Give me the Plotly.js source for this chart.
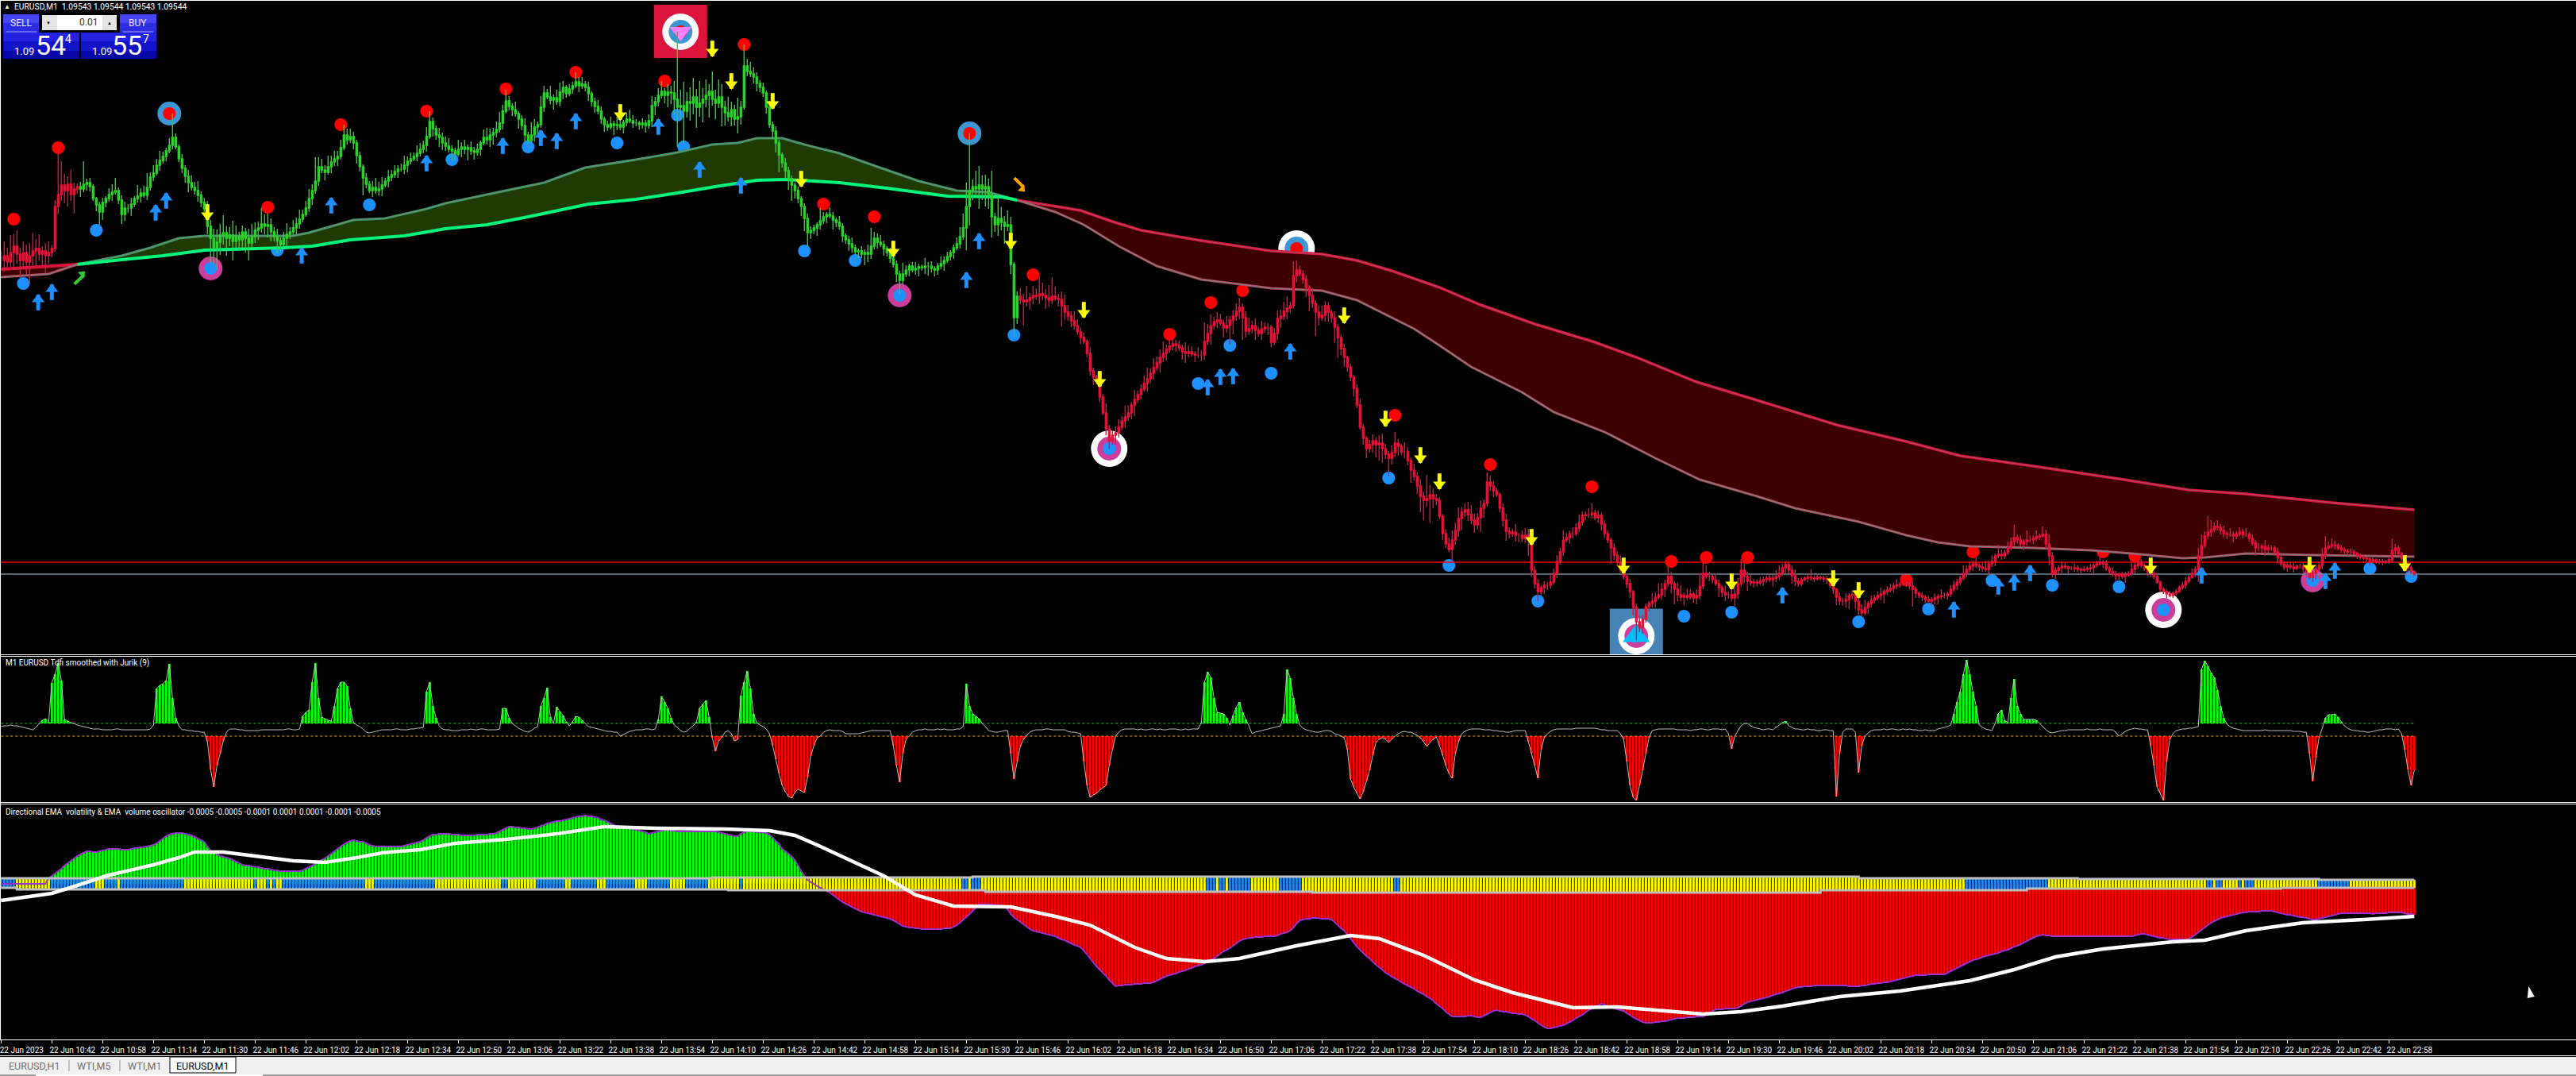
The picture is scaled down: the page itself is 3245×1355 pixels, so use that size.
<!DOCTYPE html>
<html><head><meta charset="utf-8">
<script src="https://cdn.plot.ly/plotly-3.0.1.min.js"></script>
<style>html,body{margin:0;padding:0;background:#000;overflow:hidden}#c{width:3245px;height:1355px}</style>
</head><body><div id="c"></div>
<script>
// M1 closes, chart-scale price points
const closePts=[
572,578,570,582,590,580,572,582,570,578,584,587,580,584,578,582,587,640,655,667,
660,668,655,662,665,662,668,670,665,650,642,633,645,650,655,658,660,648,630,638,
638,643,650,653,657,654,664,677,682,692,698,703,710,717,727,715,700,688,678,670,
664,660,654,645,637,615,600,588,595,604,607,600,604,596,602,598,608,600,594,602,
610,613,618,615,617,608,602,597,592,600,605,608,613,618,624,630,638,650,660,672,
690,686,683,690,696,700,703,714,730,724,728,720,704,690,676,668,660,664,660,662,
667,672,677,680,684,687,687,692,697,700,703,707,712,717,728,747,738,730,727,720,
716,712,710,706,712,715,712,714,710,708,712,720,727,724,730,733,737,745,760,773,
766,762,757,750,742,730,723,730,740,743,765,783,778,774,777,772,784,790,782,788,
792,797,792,794,790,782,772,766,760,750,743,740,744,742,743,740,746,750,748,745,
745,743,745,742,748,767,772,780,785,780,784,783,775,765,767,760,772,770,778,765,
770,775,780,785,775,770,778,765,758,753,762,750,753,765,817,810,807,803,795,790,
783,765,743,735,720,705,695,685,675,667,660,650,640,625,607,610,613,617,622,627,
630,628,623,620,615,603,598,593,588,583,584,580,582,580,590,600,595,592,587,582,
575,567,555,547,555,560,565,560,562,564,563,565,565,562,560,565,568,572,577,582,
588,593,602,613,640,660,665,662,667,662,665,655,627,617,625,620,615,617,567,500,
527,522,520,522,525,528,527,530,528,525,522,527,524,523,515,507,502,496,490,482,
475,470,455,433,425,420,400,380,360,345,352,355,362,370,375,380,390,397,403,410,
417,423,430,437,443,450,455,460,464,467,465,462,457,455,457,454,453,453,453,470,
480,490,495,497,493,487,490,497,502,508,513,500,483,486,490,484,480,486,488,488,
469,480,499,502,508,512,515,553,560,555,548,538,528,518,507,500,503,515,507,500,
488,475,461,450,438,425,411,390,362,348,335,340,345,340,342,335,328,323,330,342,
338,331,331,320,308,300,288,275,270,272,277,272,270,250,228,215,208,220,232,247,
255,258,252,245,239,248,260,266,293,288,282,277,260,245,231,228,230,226,226,222,
226,220,182,165,155,160,163,163,167,178,193,205,220,223,228,228,235,242,251,252,
252,254,248,251,240,228,220,210,201,192,182,174,165,155,135,117,110,120,136,140,
143,148,151,158,165,174,165,158,151,148,150,148,152,147,150,162,178,174,174,170,
165,160,154,151,151,147,152,165,182,174,168,166,167,166,168,170,172,170,172,174,
178,185,189,182,175,168,165,170,172,173,172,171,173,172,171,170,163,158,148,143,
143,145,150,151,143,132,128,135,140,144,147,150,152,155,157,159,162,163,164,164,
167,162,158,153,150,148,145,143,145,147,149,150,150,152,158,163,167,172,178,183,
187,190,188,186,184,183,190,193,200,202,200,204,210,218,223,220,215,218,220,220,
222,224,225,227,215,200,177,182,185,187,186,184,184,185,183,182,183,184,185,188,
190,192,190,184,180,177,175,177,174,176,178,183,188,193,188,184,180,178,174,167,
158,155,152,150,153,155,160,163,168,173,178,183,200,213,225,230,233,237,236,232,
228,227,227,225,228,230,227,227,222,216,210,210,212,208,210,210,205,198,190,186,
188,186,184,187,187,184,180,173,178,183,188,200,210,212,214,213,210,208,206,205,
205,203,200,198,197,196,193,195,192,193,192,193,195,207,210,203,197,190,185,180,177];
const upperWick=[
12,18,10,22,15,20,8,14,10,16,22,12,18,6,10,14,4,8,59,30,
14,10,18,8,4,6,29,5,6,3,2,4,6,3,8,10,16,4,6,8,
5,8,3,14,6,9,18,6,10,8,12,6,4,9,30,5,3,6,4,8,
9,7,12,5,6,10,8,12,16,14,22,8,10,18,14,6,8,5,12,16,
10,8,20,12,14,8,6,10,4,8,14,6,10,8,12,6,9,12,8,30,
12,10,6,14,8,10,7,10,13,8,10,6,4,5,3,6,4,8,12,9,
10,4,9,6,8,5,7,12,6,8,5,10,8,6,12,13,5,4,9,6,
8,10,5,4,12,6,9,4,8,5,7,3,10,12,8,6,10,14,8,14,
6,4,10,3,5,9,4,16,10,4,14,9,5,14,4,10,12,8,3,6,
5,12,6,9,4,7,3,5,8,6,3,5,9,4,10,6,3,8,12,7,
5,3,6,4,8,12,6,9,13,4,10,8,15,85,20,30,12,18,24,10,
28,14,20,9,25,12,22,16,8,20,10,6,24,8,27,9,12,8,6,4,
6,3,8,4,6,4,3,6,5,4,3,5,3,4,6,5,4,3,16,6,
3,9,5,3,8,4,3,5,8,4,3,6,4,10,23,8,6,9,5,3,
6,3,5,4,14,6,3,5,8,4,3,10,5,6,3,4,9,5,6,3,
4,8,12,18,30,72,9,20,24,12,15,10,30,5,30,14,8,18,10,3,
6,10,8,18,6,12,9,22,14,8,16,24,12,6,10,14,9,6,12,8,
5,6,3,8,4,3,6,4,12,5,6,8,10,6,14,9,4,12,5,6,
10,14,6,12,8,10,15,6,12,8,5,6,4,12,8,7,4,10,6,24,
12,14,6,10,8,4,12,5,7,10,12,5,8,14,6,9,4,10,6,5,
3,7,10,8,12,15,5,18,12,6,4,5,3,9,4,8,12,6,4,3,
8,4,3,6,2,4,3,5,8,4,3,6,8,4,10,12,6,4,9,14,
5,3,12,6,4,8,5,9,6,30,12,8,6,4,3,5,8,12,10,14,
6,8,10,12,8,6,10,5,12,8,6,4,3,6,8,5,4,10,3,6,
9,8,4,5,6,3,5,4,10,6,8,5,12,6,4,8,6,10,5,4,
8,12,4,6,3,5,4,3,6,5,8,3,4,6,2,5,8,6,4,3,
10,6,14,8,5,18,6,3,8,12,4,9,6,3,8,16,14,10,6,4,
8,5,3,9,4,6,10,7,14,12,6,8,4,3,5,4,3,6,4,8,
10,5,4,3,6,8,4,3,2,4,10,3,4,2,3,4,3,5,2,6,
4,8,3,5,6,4,7,10,3,6,4,5,8,3,5,6,4,8,3,5,
4,3,6,3,2,4,3,5,3,6,3,8,4,3,5,6,4,3,10,5,
6,4,8,3,5,10,4,8,3,12,6,4,8,5,16,4,6,3,12,6,
4,8,3,10,6,12,5,4,3,6,4,2,3,5,3,2,4,3,5,3,
4,8,3,5,3,6,4,2,3,4,3,8,4,2,3,3,4,2,3,3,
2,3,3,4,2,3,3,4,5,3,6,4,10,14,6,20,12,5,8,4,
6,3,8,4,3,6,4,8,3,5,4,6,3,8,4,3,3,5,4,3,
4,3,5,2,3,4,3,5,3,6,4,10,15,6,8,5,3,4,3,3,
4,3,2,3,3,2,4,3,2,3,3,2,4,15,5,3,2,3,4,3,2];
const lowerWick=[
8,14,10,6,18,12,22,8,16,28,12,20,8,14,22,10,6,4,10,8,
16,20,8,24,6,10,4,8,6,3,8,16,10,6,4,8,3,5,12,8,
6,10,4,5,8,3,6,4,5,3,7,4,6,3,5,3,4,6,8,12,
4,5,8,6,4,10,30,20,28,16,12,22,10,24,8,14,10,18,22,6,
8,12,6,10,14,12,6,16,8,4,10,6,5,8,6,4,3,5,8,4,
6,4,10,3,8,5,9,4,3,6,4,8,10,6,22,5,3,8,4,6,
9,3,8,5,4,8,3,6,9,4,3,6,4,5,8,3,10,6,12,9,
6,4,12,8,3,10,6,14,5,9,4,8,3,6,9,12,6,4,8,3,
5,8,4,12,6,9,5,3,8,10,4,6,3,5,12,4,6,9,5,3,
6,3,8,4,5,9,6,8,4,6,9,5,3,12,6,4,8,5,3,6,
4,6,5,9,4,8,12,6,4,10,15,14,20,50,16,40,8,22,14,26,
12,24,10,28,8,20,6,24,16,6,12,8,18,10,3,6,4,8,10,6,
5,8,4,10,12,22,6,10,14,20,10,6,12,16,17,8,5,10,6,4,
8,3,12,6,4,8,5,9,6,4,8,5,14,10,6,4,8,3,9,5,
6,4,10,17,5,4,8,3,6,10,4,8,12,5,8,6,4,9,3,5,
8,3,6,4,28,24,12,8,25,14,22,18,26,9,14,10,22,6,12,23,
8,5,30,6,12,8,4,10,6,14,8,5,3,9,26,10,6,8,5,4,
8,3,5,6,10,4,6,3,8,10,5,12,6,4,9,5,8,14,4,6,
3,10,5,8,4,12,6,9,4,5,8,4,10,12,5,3,9,4,8,6,
4,14,5,8,3,12,6,24,18,6,10,28,8,5,6,12,4,8,5,10,
6,4,8,12,5,10,6,4,8,3,5,12,20,6,30,10,4,8,12,6,
20,26,8,12,6,5,10,4,3,8,12,5,10,16,20,18,6,22,8,5,
12,4,8,6,16,5,10,20,25,8,30,12,6,4,8,5,3,14,6,8,
14,6,8,5,10,6,18,12,4,6,8,3,5,8,12,6,4,8,9,5,
6,20,8,6,12,5,8,6,4,3,6,4,5,3,8,6,3,5,4,6,
4,5,3,6,8,5,4,20,6,5,3,4,6,8,10,23,6,8,4,5,
5,8,3,6,10,4,12,19,8,5,10,4,3,6,8,5,4,3,6,5,
3,12,6,8,5,4,10,6,4,8,12,4,6,5,3,6,4,3,8,5,
4,3,6,5,10,6,4,3,2,5,3,4,2,3,4,5,3,6,10,5,
6,8,12,5,10,6,4,3,8,5,4,3,6,12,4,3,5,4,3,2,
3,4,22,6,3,5,4,3,5,6,8,4,3,5,4,3,6,4,3,5,
4,6,3,5,4,3,8,4,6,3,5,4,3,3,6,4,3,8,5,3,
5,3,4,2,6,12,4,6,5,8,3,6,2,4,3,5,2,3,4,8,
3,2,5,3,4,3,6,5,3,8,2,3,5,4,3,3,5,4,3,2,
4,3,5,2,3,3,2,3,4,3,2,5,16,6,3,4,6,3,4,5,
4,6,3,8,4,3,5,3,4,3,10,4,6,8,4,3,5,8,3,4,
6,3,5,2,3,5,4,3,6,8,3,5,4,2,3,5,3,4,3,5,
3,2,4,3,2,3,5,3,2,3,4,2,3,4,6,2,3,4,6,3,2];
// Tdfi smoothed with Jurik, per bar
const tdfi=[
4,5,5,6,5,5,4,3,2,1,0,3,8,12,14,10,59,70,84,62,
13,11,9,8,6,5,4,3,2,1,1,1,0,0,0,0,1,1,0,0,
0,0,0,0,0,0,0,1,6,52,56,58,62,83,40,15,5,0,0,-1,
-1,-2,-2,-3,-3,-15,-50,-72,-45,-30,-14,-3,1,1,1,0,0,-1,-1,-1,
-1,-1,0,0,0,0,0,0,0,0,1,1,0,0,1,17,22,25,60,84,
40,16,14,12,11,30,52,60,60,55,27,9,6,4,1,-3,-4,-3,-2,-1,
0,0,0,0,1,1,0,0,0,1,1,2,2,3,48,60,30,15,5,1,
0,0,-1,-1,-1,0,0,0,1,0,0,1,1,0,0,0,0,1,27,27,
15,8,5,2,0,-2,-3,-1,2,4,30,40,53,16,8,29,23,18,10,5,
10,17,16,12,8,4,3,2,1,0,-1,-2,-2,-3,-3,-8,-6,-4,-2,-1,
0,0,0,1,1,0,1,13,42,35,27,15,6,3,-1,-3,-2,2,5,10,
27,32,37,16,-10,-27,-14,-10,-3,-1,-5,-14,-12,43,60,74,52,20,9,6,
4,1,-5,-20,-37,-55,-70,-78,-84,-86,-79,-75,-77,-79,-60,-33,-20,-10,-8,-3,
-1,0,-1,-1,-1,-2,-5,-5,-5,-5,-5,-4,-3,-2,-1,-1,-1,-1,-1,-1,
-1,-20,-45,-66,-30,-12,-8,-3,-1,0,0,1,0,0,0,1,0,1,0,0,
0,1,1,4,58,30,20,17,14,8,4,-1,-2,-3,-3,-2,-1,-1,-30,-62,
-40,-21,-12,-7,-3,-1,0,0,0,1,1,0,0,0,0,0,-2,-3,-3,-4,
-5,-40,-70,-85,-82,-80,-76,-73,-70,-45,-25,-8,-3,0,1,1,1,1,0,1,
0,0,1,1,0,1,0,0,1,1,1,0,0,1,0,1,1,1,9,60,
73,66,40,22,21,20,15,6,18,28,35,22,13,5,-5,-3,-2,-1,0,1,
2,3,4,5,20,76,65,40,20,6,2,0,-1,-2,-3,-3,-2,-1,-1,-2,
-5,-6,-8,-10,-25,-62,-72,-80,-87,-78,-65,-51,-32,-16,-12,-10,-12,-16,-12,-8,
-5,-3,-2,-3,-3,-5,-7,-10,-15,-21,-16,-12,-9,-20,-32,-45,-55,-61,-30,-15,
-5,-2,0,1,1,1,1,0,0,0,-1,-1,-2,-2,-3,-3,-2,-1,-1,-1,
-1,-15,-30,-45,-61,-25,-10,-5,-2,0,1,1,1,1,1,1,2,2,2,2,
2,2,2,1,0,0,-1,-1,-1,-1,-5,-12,-40,-70,-85,-89,-70,-51,-30,-10,
-1,0,1,1,1,1,1,1,0,0,0,0,-1,0,0,1,1,0,0,1,
1,1,0,1,-5,-24,-8,-1,5,8,8,5,3,2,1,0,1,1,0,3,
6,9,11,5,3,1,1,0,0,1,0,0,-1,-1,0,0,-1,-1,-84,-30,
-3,1,1,1,-3,-54,-20,-8,-4,-1,0,0,0,1,0,1,1,0,0,1,
0,1,0,0,-1,-1,0,-1,-1,-1,1,2,3,4,6,20,35,48,70,88,
70,48,30,6,3,1,0,-1,8,20,25,12,9,40,64,30,20,13,13,13,
13,12,8,4,0,-3,-4,-3,-2,-1,-1,0,0,0,0,0,0,1,0,0,
0,1,0,0,0,0,-3,-8,-5,-2,0,1,2,1,1,0,0,-20,-45,-72,
-80,-89,-40,-12,-5,-1,0,1,1,2,2,3,4,76,87,80,72,66,50,30,
15,7,4,2,1,0,-1,-1,-1,-1,-1,-1,-1,0,-1,-1,-1,-1,-1,-1,
-1,-1,-2,-2,-2,-3,-3,-30,-65,-35,-10,2,15,19,19,20,16,10,5,2,
0,-1,-1,-2,-2,-3,-3,-2,-1,0,0,1,1,1,0,1,-5,-25,-50,-70,-51];
const tdfiUpperLevel=8, tdfiLowerLevel=-8;
// Directional EMA volatility oscillator, per bar
const oscillator=[
0,0,0,0,0,0,0,0,0,0,0,0,0,0,0,7,10,13,16,19,
23,26,29,32,35,37,39,41,41,40,40,41,42,43,44,44,44,44,43,43,
43,44,45,45,46,46,47,48,49,51,54,57,60,62,63,64,64,64,63,62,
61,59,57,55,53,47,42,40,37,35,34,33,32,30,28,26,24,23,23,22,
21,21,20,19,19,18,17,17,16,16,16,16,16,16,16,17,19,21,23,25,
28,30,32,35,38,41,44,47,50,52,54,55,54,53,53,51,49,48,47,47,
47,47,47,47,47,47,47,48,49,50,51,52,53,55,58,60,62,62,63,63,
63,63,62,62,62,61,61,61,61,61,62,62,62,62,63,63,64,66,68,70,
72,72,71,71,70,70,69,69,70,71,73,74,76,77,78,79,79,80,81,82,
83,84,85,85,86,85,85,84,83,81,80,78,76,74,72,71,71,70,70,69,
68,67,66,65,63,64,65,66,67,68,68,67,67,66,66,66,66,66,66,66,
66,66,66,66,66,66,65,64,63,62,61,60,60,63,65,66,66,66,65,65,
65,64,62,58,54,50,44,41,38,34,30,23,16,10,5,2,0,-3,-5,-7,
-9,-11,-14,-17,-20,-23,-25,-27,-29,-31,-33,-35,-36,-37,-38,-39,-40,-41,-42,-43,
-44,-46,-48,-51,-53,-54,-55,-55,-56,-56,-57,-57,-57,-57,-57,-57,-57,-56,-56,-56,
-54,-52,-49,-45,-42,-38,-34,-30,-26,-26,-26,-26,-26,-27,-27,-27,-28,-32,-38,-42,
-45,-48,-51,-54,-57,-59,-60,-61,-62,-63,-64,-65,-66,-68,-70,-71,-73,-75,-77,-78,
-80,-84,-89,-94,-99,-104,-108,-112,-116,-121,-125,-129,-128,-128,-127,-127,-127,-126,-126,-126,
-125,-125,-125,-124,-122,-120,-118,-116,-115,-114,-113,-111,-110,-109,-107,-106,-104,-103,-102,-100,
-98,-96,-94,-91,-88,-85,-83,-81,-78,-75,-72,-70,-69,-68,-68,-67,-67,-67,-66,-66,
-66,-66,-65,-63,-62,-61,-59,-55,-50,-46,-45,-44,-44,-43,-43,-43,-44,-44,-44,-45,
-48,-52,-56,-59,-64,-69,-74,-79,-83,-87,-91,-94,-98,-102,-105,-108,-112,-114,-117,-119,
-121,-124,-126,-128,-130,-132,-135,-137,-139,-142,-144,-147,-151,-154,-157,-161,-164,-167,-167,-167,
-167,-167,-166,-166,-167,-168,-168,-166,-164,-162,-160,-159,-160,-161,-161,-162,-163,-163,-164,-164,
-165,-167,-170,-172,-175,-178,-180,-182,-182,-181,-180,-179,-178,-176,-174,-172,-169,-167,-165,-162,
-159,-157,-155,-153,-151,-152,-154,-155,-157,-158,-159,-160,-163,-165,-168,-170,-172,-174,-175,-175,
-175,-174,-174,-173,-173,-172,-171,-170,-169,-169,-169,-168,-168,-168,-167,-167,-167,-165,-163,-160,
-158,-158,-158,-157,-157,-157,-157,-156,-154,-151,-149,-148,-147,-146,-145,-144,-143,-142,-140,-139,
-138,-137,-135,-134,-132,-131,-130,-130,-129,-129,-129,-128,-128,-128,-128,-128,-128,-128,-128,-128,
-128,-128,-129,-129,-129,-129,-128,-128,-127,-126,-126,-125,-125,-124,-124,-123,-122,-121,-120,-119,
-118,-117,-116,-115,-115,-115,-115,-114,-114,-114,-114,-114,-114,-112,-110,-108,-106,-104,-102,-100,
-98,-96,-95,-94,-92,-91,-90,-89,-88,-87,-85,-84,-83,-81,-79,-78,-76,-74,-72,-70,
-68,-66,-65,-64,-65,-65,-66,-66,-66,-66,-66,-66,-66,-66,-66,-66,-66,-66,-66,-66,
-66,-66,-66,-66,-66,-66,-66,-66,-66,-66,-66,-66,-65,-64,-63,-63,-64,-65,-66,-67,
-68,-68,-69,-70,-70,-70,-70,-70,-70,-69,-67,-64,-61,-58,-55,-52,-49,-47,-45,-43,
-42,-41,-40,-39,-38,-37,-36,-36,-35,-35,-35,-35,-34,-34,-34,-34,-35,-36,-37,-38,
-39,-39,-40,-41,-42,-42,-43,-44,-45,-45,-44,-43,-42,-41,-40,-39,-38,-37,-37,-37,
-37,-37,-37,-37,-37,-37,-37,-38,-37,-37,-37,-37,-36,-36,-36,-36,-36,-37,-38,-38,-39];
// signal line
const signalBar=[0,16,24,33,48,56,61,70,80,92,102,112,120,132,143,159,175,190,206,228,242,250,257,267,278,288,300,318,332,343,357,367,379,390,408,425,434,448,464,476,495,509,525,536,548,561,579,598,620,634,647,662,684,694,707,725,744,760];
const signalVal=[-21,-12,-2,10,24,33,40,40,35,29,27,33,39,43,51,56,63,72,70,69,67,61,49,30,10,-14,-28,-29,-41,-52,-80,-94,-98,-94,-78,-65,-69,-90,-121,-137,-156,-155,-161,-164,-161,-154,-142,-135,-122,-108,-92,-82,-73,-71,-59,-49,-45,-41];
// volume state: bars in the blue state, inclusive ranges; every other bar is yellow
const blueFrom=[0,16,33,38,80,84,86,89,118,158,169,180,191,204,216,233,303,306,380,384,387,403,439,619,695,698,705,707,730];
const blueTo=[4,29,36,57,80,84,86,114,136,159,177,187,199,210,222,233,304,308,382,385,393,409,440,644,696,699,705,709,739];
const volUpperBar=[0,224,306,585,654,730,760];
const volUpperVal=[7,8,9,7,6,5,5];
const volLowerBar=[0,5,229,310,413,573,638,718,760];
const volLowerVal=[-5,-7,-8,-10,-11,-8,-6,-5,-5];
// moving-average bands (bar, price points)
const earlyTopBar=[0,24], earlyTopVal=[561,567];
const earlyLowBar=[0,15,24], earlyLowVal=[551,555,567];
const greenTopBar=[24,38,47,56,64,92,97,111,121,134,140,153,171,184,200,213,224,232,238,246,253,264,276,289,301,311,320];
const greenTopVal=[567,578,588,600,603,603,607,623,625,637,644,655,670,689,699,708,718,720,726,726,718,707,690,672,660,658,648];
const greenLowBar=[24,38,51,64,89,98,110,127,140,153,166,185,200,213,225,238,247,264,279,298,315,320];
const greenLowVal=[567,573,578,585,588,590,598,603,612,617,627,643,649,657,665,673,674,670,663,653,652,648];
const redTopBar=[320,340,350,359,378,400,416,427,438,453,466,483,502,515,534,553,578,600,617,640,667,689,707,734,760];
const redTopVal=[648,635,621,610,597,584,580,572,559,538,516,492,469,450,419,396,365,344,326,313,297,283,278,267,258];
const redLowBar=[320,332,341,352,364,378,400,416,427,445,453,463,479,489,505,521,535,553,565,585,600,610,620,640,658,671,687,694,707,728,760];
const redLowVal=[648,633,617,590,565,548,537,534,522,486,465,438,406,381,356,323,296,275,260,243,226,217,212,210,207,203,197,198,203,201,199];
// markers
const redDotBar=[4,18,53,84,107,134,159,181,209,214,234,259,275,305,325,368,381,391,408,439,469,501,526,537,550,600,621,662,672];
const redDotVal=[624,714,757,639,743,760,788,809,798,860,844,643,627,732,554,479,519,534,587,377,315,287,193,198,198,170,205,205,200];
const blueDotBar=[7,30,66,87,116,142,166,194,213,215,253,269,283,319,349,387,377,400,437,456,484,515,530,545,585,607,627,646,667,681,728,746,759];
const blueDotVal=[543,610,562,585,642,699,715,720,755,715,584,572,528,478,335,465,417,430,298,188,143,99,124,129,117,133,169,163,161,132,169,184,174];
const blueRingBar=[53,305,214,408], blueRingVal=[757,732,860,587];
const pinkRingBar=[66,283,349,681,515,728], pinkRingVal=[562,528,335,132,99,169];
const whiteRingBar=[214,408,349,681,515], whiteRingVal=[860,587,335,132,99];
const buyArrowBar=[11.7,16,48.7,52,94.7,104,134,158,170,175,181,207,220,233,308,304,384,388,380,406,561,615,629,634,639,693,732,735];
const buyArrowVal=[530,543,643,658,589,652,705,727,737,733,758,751,697,677,607,558,436,437,423,468,161,143,172,177,189,186,179,192];
const sellArrowBar=[65,195,224,230,243,252,281,318,341,346,423,436,447,453,482,511,545,577,585,677,727,757];
const sellArrowVal=[622,748,828,787,762,664,576,586,499,412,492,362,316,283,213,177,157,161,146,177,178,180];
const bidPts=177, askPts=192;
const timeLabels=['22 Jun 2023','22 Jun 10:42','22 Jun 10:58','22 Jun 11:14','22 Jun 11:30','22 Jun 11:46','22 Jun 12:02','22 Jun 12:18','22 Jun 12:34','22 Jun 12:50','22 Jun 13:06','22 Jun 13:22','22 Jun 13:38','22 Jun 13:54','22 Jun 14:10','22 Jun 14:26','22 Jun 14:42','22 Jun 14:58','22 Jun 15:14','22 Jun 15:30','22 Jun 15:46','22 Jun 16:02','22 Jun 16:18','22 Jun 16:34','22 Jun 16:50','22 Jun 17:06','22 Jun 17:22','22 Jun 17:38','22 Jun 17:54','22 Jun 18:10','22 Jun 18:26','22 Jun 18:42','22 Jun 18:58','22 Jun 19:14','22 Jun 19:30','22 Jun 19:46','22 Jun 20:02','22 Jun 20:18','22 Jun 20:34','22 Jun 20:50','22 Jun 21:06','22 Jun 21:22','22 Jun 21:38','22 Jun 21:54','22 Jun 22:10','22 Jun 22:26','22 Jun 22:42','22 Jun 22:58'];
const tickEvery=16;

const W=3245,H=1355;
const N=closePts.length;
const bars=closePts.map((_,i)=>i);
const CRIMSON='#dc143c',LIME='#32cd32',SAND='Roboto';
const open=closePts.map((c,i)=>i?closePts[i-1]:c);
const high=closePts.map((c,i)=>Math.max(c,open[i])+(upperWick[i]||0));
const low=closePts.map((c,i)=>Math.min(c,open[i])-(lowerWick[i]||0));
const px=x=>x/W, py=y=>1-y/H;
const traces=[];
function dots(x,y,size,color,symbol){traces.push({type:'scatter',mode:'markers',x,y,xaxis:'x',yaxis:'y',hoverinfo:'skip',marker:{size,color,symbol:symbol||'circle',line:{width:0}}});}
function line(x,y,width,color,extra){traces.push(Object.assign({type:'scatter',mode:'lines',x,y,xaxis:'x',yaxis:'y',hoverinfo:'skip',line:{width,color,simplify:false}},extra||{}));}

dots([214],[860.5],67,CRIMSON,'square');
dots([515],[100],67,'#4682b4','square');
dots(whiteRingBar,whiteRingVal,46,'#ffffff');
dots(blueRingBar,blueRingVal,30,'#3d96d4');
dots(pinkRingBar,pinkRingVal,30,'#cc3d9b');
dots(redDotBar,redDotVal,16,'#ff0000');
dots(blueDotBar,blueDotVal,16,'#1e90ff');
dots([214],[860],24,'#ff80ff','triangle-down');
dots([515],[99],30,'#00bfff','triangle-up');

line([-1,812],[askPts,askPts],1.4,'#ff0000');
line([-1,812],[bidPts,bidPts],1.4,'#778899');

function band(lb,lv,tb,tv,fill){line(lb,lv,0,'rgba(0,0,0,0)');line(tb,tv,0,'rgba(0,0,0,0)',{fill:'tonexty',fillcolor:fill});}
band(earlyLowBar,earlyLowVal,earlyTopBar,earlyTopVal,'#3c0000');
band(greenLowBar,greenLowVal,greenTopBar,greenTopVal,'#203a06');
band(redLowBar,redLowVal,redTopBar,redTopVal,'#3c0000');
line(earlyTopBar,earlyTopVal,4,CRIMSON);
line(earlyLowBar,earlyLowVal,3,'#b05060');line(earlyLowBar,earlyLowVal,1,'#808080');
line(greenTopBar,greenTopVal,3,'#2e9e62');line(greenTopBar,greenTopVal,1.2,'#808080');
line(greenLowBar,greenLowVal,4,'#00f57a');
line(redTopBar,redTopVal,3.5,CRIMSON);line(redTopBar,redTopVal,.8,'#a06070');
line(redLowBar,redLowVal,3,'#b04a60');line(redLowBar,redLowVal,1.2,'#808080');

function candles(from,to,color){
  const s=a=>a.slice(from,to);
  traces.push({type:'candlestick',x:s(bars),open:s(open),high:s(high),low:s(low),close:s(closePts),xaxis:'x',yaxis:'y4',hoverinfo:'skip',
    whiskerwidth:0,increasing:{line:{color,width:1.4},fillcolor:color},decreasing:{line:{color,width:1.4},fillcolor:color}});
}
candles(0,25,CRIMSON);candles(25,321,LIME);candles(321,N,CRIMSON);

// arrows: triangle head (tip on the value) and a stem behind it
function arrows(x,y,color,dir){
  traces.push({type:'scatter',mode:'markers',x,y:y.map(v=>v-dir*11),xaxis:'x',yaxis:'y5',hoverinfo:'skip',marker:{symbol:'line-ns',size:14,line:{width:5,color:color}}});
  traces.push({type:'scatter',mode:'markers',x,y:y.map(v=>v-dir*7),xaxis:'x',yaxis:'y5',hoverinfo:'skip',marker:{symbol:dir>0?'triangle-up':'triangle-down',size:14,color:color,line:{width:0}}});
}
arrows(buyArrowBar,buyArrowVal,'#1e90ff',1);
arrows(sellArrowBar,sellArrowVal,'#ffff00',-1);
function slant(headX,headY,stemX,stemY,color,angle){
  traces.push({type:'scatter',mode:'markers',x:[stemX],y:[stemY],xaxis:'x',yaxis:'y5',hoverinfo:'skip',marker:{symbol:'line-ns',size:12,angle,line:{width:4,color}}});
  traces.push({type:'scatter',mode:'markers',x:[headX],y:[headY],xaxis:'x',yaxis:'y5',hoverinfo:'skip',marker:{symbol:'triangle-up',size:10,angle,color,line:{width:0}}});
}
slant(25.6,555,24.6,548,LIME,45);
slant(321.6,662,320.6,670,'#ffa500',135);

// Tdfi panel
const gi=[],gv=[],ri=[],rv=[];
tdfi.forEach((v,i)=>{if(v>tdfiUpperLevel){gi.push(i);gv.push(v-tdfiUpperLevel);}else if(v<tdfiLowerLevel){ri.push(i);rv.push(v-tdfiLowerLevel);}});
traces.push({type:'bar',x:gi,y:gv,base:tdfiUpperLevel,width:.72,xaxis:'x',yaxis:'y2',hoverinfo:'skip',marker:{color:'#00ff00',line:{width:0}}});
traces.push({type:'bar',x:ri,y:rv,base:tdfiLowerLevel,width:.72,xaxis:'x',yaxis:'y2',hoverinfo:'skip',marker:{color:'#ff0000',line:{width:0}}});
const lastBar=N-1;
traces.push({type:'scatter',mode:'lines',x:[0,lastBar],y:[tdfiUpperLevel,tdfiUpperLevel],xaxis:'x',yaxis:'y2',hoverinfo:'skip',line:{width:1.2,color:'#20c820',dash:'3px,3px'}});
traces.push({type:'scatter',mode:'lines',x:[0,lastBar],y:[tdfiLowerLevel,tdfiLowerLevel],xaxis:'x',yaxis:'y2',hoverinfo:'skip',line:{width:1.2,color:'#ffa500',dash:'3px,3px'}});
traces.push({type:'scatter',mode:'lines',x:bars,y:tdfi,xaxis:'x',yaxis:'y2',hoverinfo:'skip',line:{width:1,color:'#c0c0c0',simplify:false}});

// oscillator panel
traces.push({type:'bar',x:bars,y:oscillator.map(v=>Math.max(v,0)),width:.76,xaxis:'x',yaxis:'y3',hoverinfo:'skip',marker:{color:'#00ff00',line:{width:0}}});
traces.push({type:'bar',x:bars,y:oscillator.map(v=>Math.min(v,0)),width:.76,xaxis:'x',yaxis:'y3',hoverinfo:'skip',marker:{color:'#ff0000',line:{width:0}}});
traces.push({type:'scatter',mode:'lines',x:bars,y:oscillator,xaxis:'x',yaxis:'y3',hoverinfo:'skip',line:{width:2,color:'#9932cc',simplify:false}});
const stepAt=(bx,vx,i)=>{let v=vx[0];for(let k=0;k<bx.length;k++)if(i>=bx[k])v=vx[k];return v;};
const isBlue=i=>blueFrom.some((f,k)=>i>=f&&i<=blueTo[k]);
const sTop=bars.map(i=>stepAt(volUpperBar,volUpperVal,i)), sBot=bars.map(i=>stepAt(volLowerBar,volLowerVal,i));
traces.push({type:'bar',x:bars,y:sTop.map((t,i)=>t-sBot[i]),base:sBot,width:.76,xaxis:'x',yaxis:'y3',hoverinfo:'skip',marker:{color:bars.map(i=>isBlue(i)?'#1e88f0':'#ffff00'),line:{width:0}}});
traces.push({type:'scatter',mode:'lines',x:volUpperBar,y:volUpperVal,xaxis:'x',yaxis:'y3',hoverinfo:'skip',line:{width:3,color:'#c0c0c0',shape:'hv'}});
traces.push({type:'scatter',mode:'lines',x:volLowerBar,y:volLowerVal,xaxis:'x',yaxis:'y3',hoverinfo:'skip',line:{width:3,color:'#c0c0c0',shape:'hv'}});
traces.push({type:'scatter',mode:'lines',x:signalBar,y:signalVal,xaxis:'x',yaxis:'y3',hoverinfo:'skip',line:{width:4.5,color:'#ffffff'}});
traces.push({type:'scatter',mode:'markers',x:[796],y:[-129],xaxis:'x',yaxis:'y3',hoverinfo:'skip',marker:{symbol:'arrow',size:15,angle:-12,color:'#ffffff',line:{width:0}}});

// chrome
const shapes=[],ann=[];
function rect(x0,y0,x1,y1,fill,ln){shapes.push({type:'rect',xref:'paper',yref:'paper',x0:px(x0),x1:px(x1),y0:py(y0),y1:py(y1),fillcolor:fill,line:{width:ln?1:0,color:ln||fill},layer:'above'});}
function hline(x0,x1,y,c){shapes.push({type:'line',xref:'paper',yref:'paper',x0:px(x0),x1:px(x1),y0:py(y),y1:py(y),line:{width:1,color:c},layer:'above'});}
function vline(x,y0,y1,c){shapes.push({type:'line',xref:'paper',yref:'paper',x0:px(x),x1:px(x),y0:py(y0),y1:py(y1),line:{width:1,color:c},layer:'above'});}
function text(t,x,y,size,color,anchor,font){ann.push({text:t,xref:'paper',yref:'paper',x:px(x),y:py(y),xanchor:anchor||'left',yanchor:'middle',showarrow:false,font:{family:font||SAND,size,color},align:'left'});}
hline(0,W,0.5,'#ffffff');vline(0.5,0,1309,'#ffffff');
hline(0,W,824.5,'#ffffff');hline(0,W,826.5,'#ffffff');
hline(0,W,1010.5,'#ffffff');hline(0,W,1012.5,'#ffffff');
hline(0,W,1329.5,'#ffffff');
rect(0,1331,W,1355,'#f0f0f0');
rect(0,1353,45,1355,'#a0a0a0');rect(45,1353,331,1355,'#ffffff');rect(331,1353,W,1355,'#a0a0a0');
rect(214,1331,297,1351,'#ffffff','#000000');
vline(87,1335,1349,'#909090');vline(151,1335,1349,'#909090');
text('EURUSD,H1',43,1342,12.5,'#6e6e6e','center');text('WTI,M5',118,1342,12.5,'#6e6e6e','center');
text('WTI,M1',182,1342,12.5,'#6e6e6e','center');text('EURUSD,M1',255,1342,12.5,'#000000','center');
rect(4,18,49,29,'#4545f5');rect(4,29,49,41,'#2c2ce0');rect(151,18,197,29,'#4545f5');rect(151,29,197,41,'#2c2ce0');
hline(8,46,40,'#a0a0ff');hline(155,193,40,'#a0a0ff');
rect(4,41,100,52,'#2222e0');rect(4,52,100,64,'#1212c8');rect(4,64,100,74,'#0505a8');
rect(102,41,197,52,'#2222e0');rect(102,52,197,64,'#1212c8');rect(102,64,197,74,'#0505a8');
rect(53,19,147,38,'#e4e4e4');rect(72,19,129,38,'#ffffff');
text('▲',3,8,8,'#ffffff');
text('EURUSD,M1  1.09543 1.09544 1.09543 1.09544',16,8,10.3,'#ffffff');
text('SELL',26,29,12,'#e6e6ff','center');text('BUY',173,29,12,'#e6e6ff','center');
text('0.01',125,28,12,'#303030','right');text('▼',61,28,6,'#000000','center');text('▲',138,28,6,'#000000','center');
text('1.09',30,64,13,'#ffffff','center');text('54',64,57,34,'#ffffff','center');text('4',86,49,14,'#ffffff','center');
text('1.09',128,64,13,'#ffffff','center');text('55',160,57,34,'#ffffff','center');text('7',184,49,14,'#ffffff','center');
text('M1 EURUSD Tdfi smoothed with Jurik (9)',5,835,10,'#ffffff');
text('Directional EMA  volatility &amp; EMA  volume oscillator -0.0005 -0.0005 -0.0001 0.0001 0.0001 -0.0001 -0.0005',5,1022,10,'#ffffff');

const hidden=(domain,range,extra)=>Object.assign({domain,range,visible:false,fixedrange:true,showgrid:false,zeroline:false,anchor:'x'},extra||{});
const mainRange=[76,900];
const layout={width:W,height:H,margin:{l:0,r:0,t:0,b:0,pad:0},paper_bgcolor:'#000',plot_bgcolor:'#000',showlegend:false,barmode:'overlay',dragmode:false,hovermode:false,
 xaxis:{domain:[0,1],range:[-0.325,810.925],anchor:'y3',showgrid:false,zeroline:false,showline:true,linecolor:'#ffffff',linewidth:1,ticks:'outside',ticklen:4,tickcolor:'#ffffff',tickwidth:1,
   tickmode:'array',tickvals:timeLabels.map((_,k)=>k*tickEvery),ticktext:timeLabels,tickangle:0,ticklabelshift:26,ticklabeloverflow:'allow',tickfont:{family:SAND,size:10,color:'#ffffff'},rangeslider:{visible:false},fixedrange:true},
 yaxis:hidden([py(824),1],mainRange),
 yaxis4:hidden([py(824),1],mainRange,{overlaying:'y'}),
 yaxis5:hidden([py(824),1],mainRange,{overlaying:'y'}),
 yaxis2:hidden([py(1010),py(827)],[-91,92]),
 yaxis3:hidden([py(1309),py(1012)],[-196,101]),
 shapes,annotations:ann};
Plotly.newPlot('c',traces,layout,{staticPlot:true,displayModeBar:false});
</script></body></html>
